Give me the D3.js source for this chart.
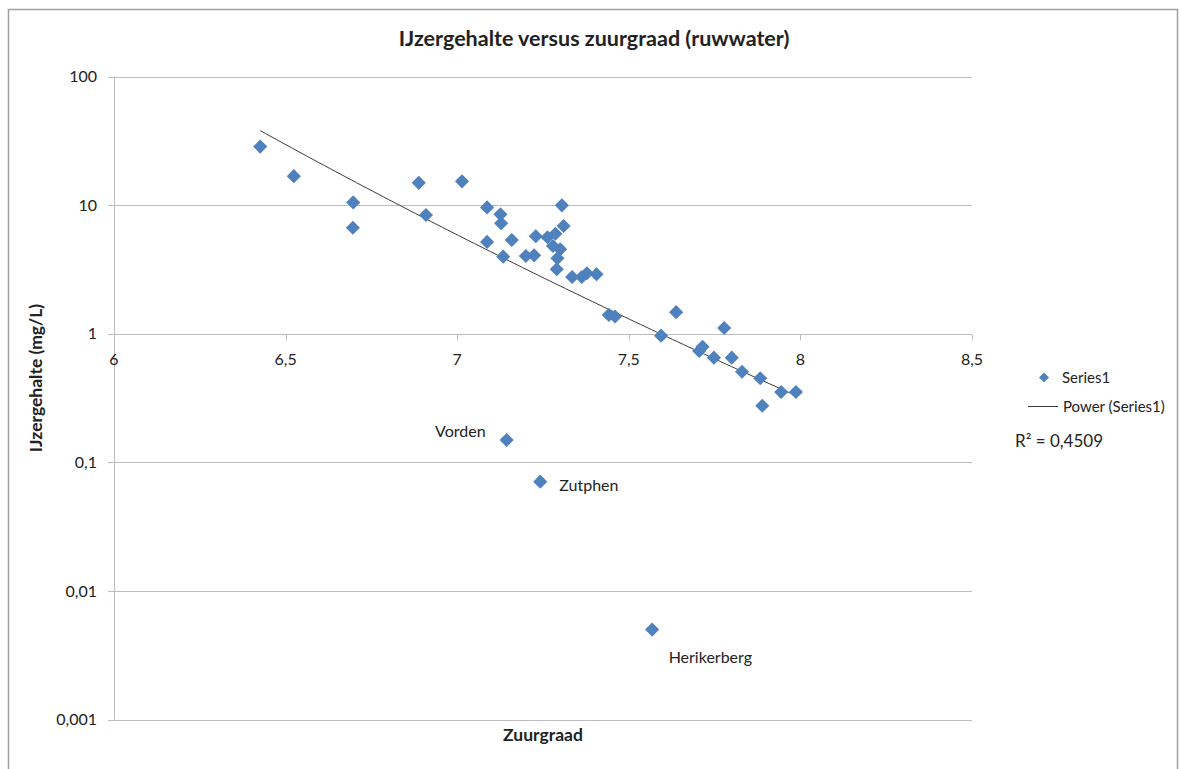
<!DOCTYPE html>
<html>
<head>
<meta charset="utf-8">
<script src="https://cdn.jsdelivr.net/npm/d3@7"></script>
<style>
  body { margin: 0; background: #fff; }
  svg { display: block; }
  text { font-family: Lato, "Open Sans", sans-serif; fill: #222; }
</style>
</head>
<body>
<svg id="chart" width="1181" height="769"></svg>
<script>
// pH (zuurgraad) of each raw-water sample
const zuurgraad = [
  6.426, 6.524, 6.697, 6.696, 6.888, 6.909, 7.014, 7.087, 7.087, 7.126,
  7.128, 7.134, 7.159, 7.200, 7.224, 7.229, 7.263, 7.286, 7.279, 7.300,
  7.292, 7.290, 7.305, 7.310, 7.335, 7.363, 7.378, 7.406, 7.442, 7.460,
  7.594, 7.638, 7.705, 7.715, 7.748, 7.778, 7.800, 7.830, 7.883, 7.889,
  7.944, 7.987, 7.144, 7.242, 7.568
];
// Iron content in mg/L for the same samples
const ijzergehalte = [
  28.5, 16.8, 10.5, 6.67, 14.9, 8.37, 15.3, 9.6, 5.17, 8.48,
  7.22, 3.97, 5.35, 4.02, 4.07, 5.72, 5.62, 5.99, 4.81, 4.53,
  3.86, 3.17, 9.96, 6.88, 2.76, 2.76, 2.95, 2.90, 1.40, 1.36,
  0.965, 1.47, 0.734, 0.792, 0.651, 1.107, 0.651, 0.506, 0.450, 0.275,
  0.352, 0.352, 0.149, 0.0707, 0.005
];
// Named pumping stations
const stationNames = ["Vorden", "Zutphen", "Herikerberg"];
const stationIndex = [42, 43, 44];

const xTicks = [6, 6.5, 7, 7.5, 8, 8.5];
const xTickLabels = ["6", "6,5", "7", "7,5", "8", "8,5"];
const yTicks = [0.001, 0.01, 0.1, 1, 10, 100];
const yTickLabels = ["0,001", "0,01", "0,1", "1", "10", "100"];
const rSquaredLabel = "R² = 0,4509";

const svg = d3.select("#chart");
const blue = "#4F81BD";
const gridColor = "#bdbdbd";

// chart frame
svg.append("rect")
  .attr("x", 8.5).attr("y", 9.5).attr("width", 1169).attr("height", 790)
  .attr("fill", "#fff").attr("stroke", "#a0a0a0").attr("stroke-width", 1.5);

const plot = { left: 114, right: 972, top: 76.5, bottom: 719.5 };
const x = d3.scaleLinear().domain([6, 8.5]).range([plot.left, plot.right]);
const y = d3.scaleLog().domain([0.001, 100]).range([plot.bottom, plot.top]);

// horizontal gridlines
svg.append("g").selectAll("line").data(yTicks).join("line")
  .attr("x1", plot.left - 6).attr("x2", plot.right)
  .attr("y1", d => Math.round(y(d)) + 0.5).attr("y2", d => Math.round(y(d)) + 0.5)
  .attr("stroke", gridColor).attr("stroke-width", 1);

// vertical axis line
svg.append("line")
  .attr("x1", plot.left + 0.5).attr("x2", plot.left + 0.5)
  .attr("y1", plot.top).attr("y2", plot.bottom)
  .attr("stroke", gridColor).attr("stroke-width", 1);

// y tick labels
svg.append("g").selectAll("text").data(yTicks).join("text")
  .attr("x", plot.left - 17).attr("y", d => y(d))
  .attr("dy", "0.35em").attr("text-anchor", "end")
  .attr("font-size", 16)
  .text((d, i) => yTickLabels[i]);

// horizontal axis crosses at 1
const axisY = Math.round(y(1)) + 0.5;
svg.append("g").selectAll("line").data(xTicks).join("line")
  .attr("x1", d => Math.round(x(d)) + 0.5).attr("x2", d => Math.round(x(d)) + 0.5)
  .attr("y1", axisY).attr("y2", axisY + 6)
  .attr("stroke", gridColor).attr("stroke-width", 1);
svg.append("g").selectAll("text").data(xTicks).join("text")
  .attr("x", d => x(d)).attr("y", axisY + 25)
  .attr("dy", "0.35em").attr("text-anchor", "middle")
  .attr("font-size", 16)
  .text((d, i) => xTickLabels[i]);

// power trendline y = a * x^b, least squares on ln-ln
const lx = zuurgraad.map(Math.log), ly = ijzergehalte.map(Math.log);
const mx = d3.mean(lx), my = d3.mean(ly);
const b = d3.sum(lx, (v, i) => (v - mx) * (ly[i] - my)) / d3.sum(lx, v => (v - mx) ** 2);
const lnA = my - b * mx;
const [xmin, xmax] = d3.extent(zuurgraad);
const trend = d3.range(0, 101).map(k => {
  const xv = xmin + (xmax - xmin) * k / 100;
  return [xv, Math.exp(lnA + b * Math.log(xv))];
});
svg.append("path")
  .datum(trend)
  .attr("d", d3.line().x(d => x(d[0])).y(d => y(d[1])))
  .attr("fill", "none").attr("stroke", "#3a3a3a").attr("stroke-width", 1);

// data points: squares turned 45 degrees
const diamond = d3.symbol().type(d3.symbolSquare).size(100);
const pts = zuurgraad.map((v, i) => ({ x: v, y: ijzergehalte[i] }));
svg.append("g").selectAll("path").data(pts).join("path")
  .attr("d", diamond)
  .attr("transform", d => `translate(${x(d.x)},${y(d.y)}) rotate(45)`)
  .attr("fill", blue);

// station labels
const labelOffsets = [
  { dx: -21, dy: -9, anchor: "end" },
  { dx: 19, dy: 4, anchor: "start" },
  { dx: 16.5, dy: 27.5, anchor: "start" }
];
svg.append("g").selectAll("text").data(stationNames).join("text")
  .attr("x", (d, i) => x(zuurgraad[stationIndex[i]]) + labelOffsets[i].dx)
  .attr("y", (d, i) => y(ijzergehalte[stationIndex[i]]) + labelOffsets[i].dy)
  .attr("dy", "0.35em")
  .attr("text-anchor", (d, i) => labelOffsets[i].anchor)
  .attr("font-size", 16)
  .text(d => d);

// title and axis titles
svg.append("text")
  .attr("x", 594).attr("y", 38).attr("dy", "0.35em")
  .attr("text-anchor", "middle").attr("font-size", 21.5).attr("font-weight", "bold")
  .text("IJzergehalte versus zuurgraad (ruwwater)");
svg.append("text")
  .attr("x", 543).attr("y", 735).attr("dy", "0.35em")
  .attr("text-anchor", "middle").attr("font-size", 17.5).attr("font-weight", "bold")
  .text("Zuurgraad");
svg.append("text")
  .attr("transform", "translate(36,378) rotate(-90)")
  .attr("dy", "0.35em")
  .attr("text-anchor", "middle").attr("font-size", 17.5).attr("font-weight", "bold")
  .text("IJzergehalte (mg/L)");

// legend
const legend = svg.append("g");
legend.append("path").attr("d", d3.symbol().type(d3.symbolSquare).size(50))
  .attr("transform", "translate(1044,377.5) rotate(45)").attr("fill", blue);
legend.append("text").attr("x", 1062).attr("y", 377.5).attr("dy", "0.35em")
  .attr("font-size", 15).text("Series1");
legend.append("line").attr("x1", 1028).attr("x2", 1058).attr("y1", 406.5).attr("y2", 406.5)
  .attr("stroke", "#3a3a3a").attr("stroke-width", 1);
legend.append("text").attr("x", 1063).attr("y", 406.5).attr("dy", "0.35em")
  .attr("font-size", 15).text("Power (Series1)");
svg.append("text").attr("x", 1015).attr("y", 441).attr("dy", "0.35em")
  .attr("font-size", 17).text(rSquaredLabel);
</script>
</body>
</html>
